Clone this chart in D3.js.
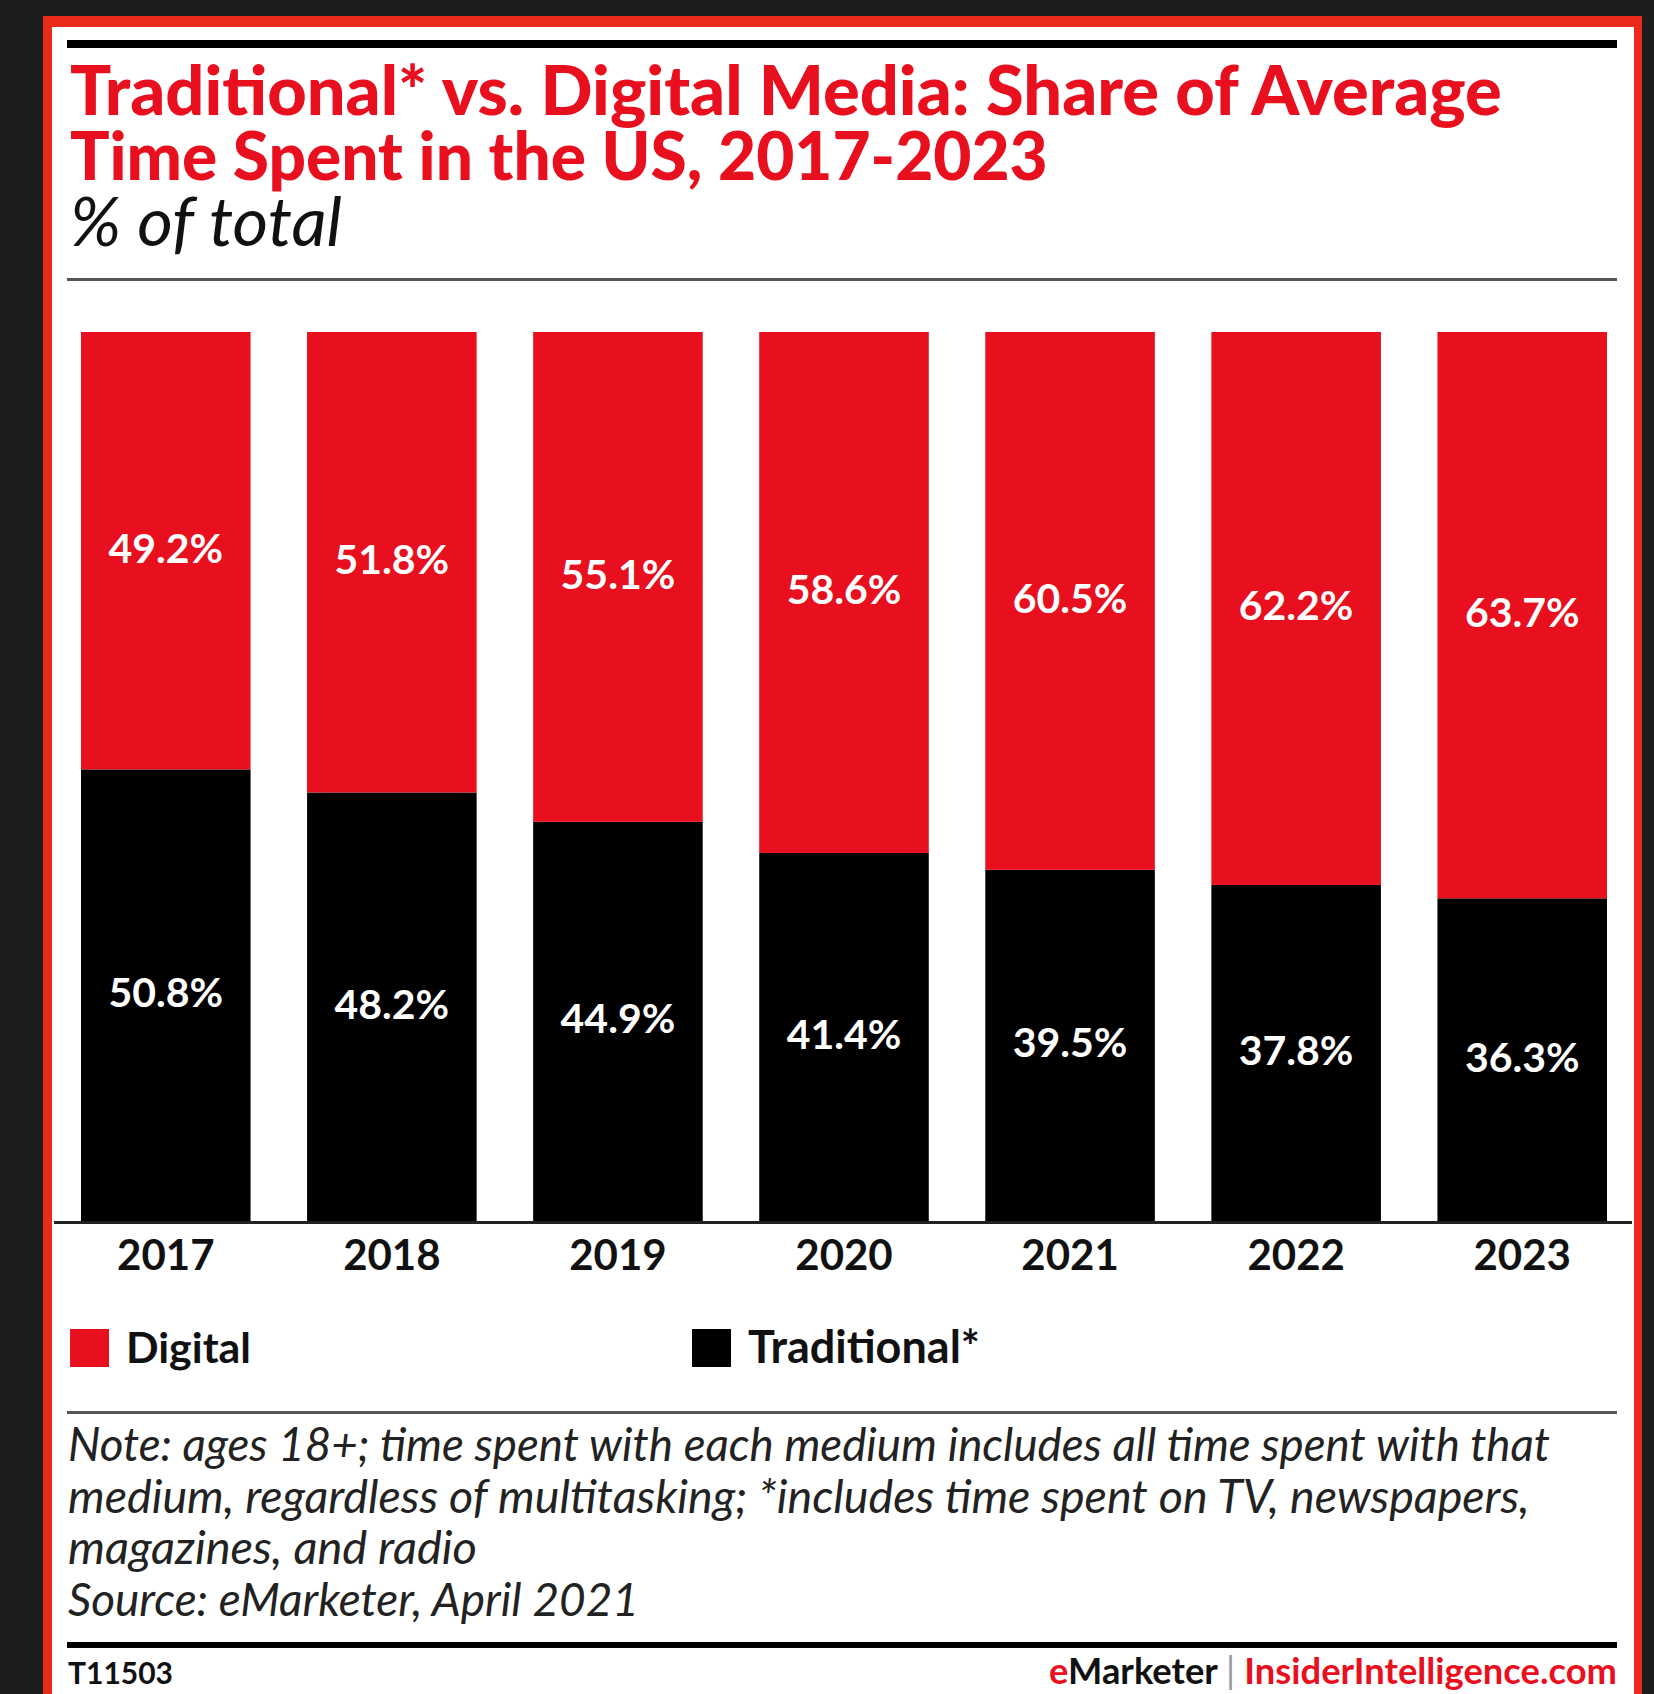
<!DOCTYPE html>
<html>
<head>
<meta charset="utf-8">
<script src="https://cdn.jsdelivr.net/npm/d3@7"></script>
<style>
  body { margin: 0; background: #1d1d1d; }
  svg { display: block; }
</style>
</head>
<body>
<svg id="chart"></svg>
<script>
const years = ["2017", "2018", "2019", "2020", "2021", "2022", "2023"];
const digital = [49.2, 51.8, 55.1, 58.6, 60.5, 62.2, 63.7];
const traditional = [50.8, 48.2, 44.9, 41.4, 39.5, 37.8, 36.3];
const seriesNames = ["Traditional*", "Digital"];
const titleLines = ["Traditional* vs. Digital Media: Share of Average", "Time Spent in the US, 2017-2023"];
const noteLines = [
  "Note: ages 18+; time spent with each medium includes all time spent with that",
  "medium, regardless of multitasking; *includes time spent on TV, newspapers,",
  "magazines, and radio",
  "Source: eMarketer, April 2021"
];

const width = 1654;
const height = 1694;
const red = "#e8101e";
const font = "Lato, 'Open Sans', sans-serif";

const svg = d3.select("#chart").attr("width", width).attr("height", height);

// squeeze/grow font size so the text spans roughly the same width as the original
function fit(sel, w) {
  const len = sel.node().getComputedTextLength();
  const fs = parseFloat(sel.attr("font-size"));
  sel.attr("font-size", (fs * w / len).toFixed(2));
  return sel;
}

// dark frame + red border + white card
svg.append("rect").attr("width", width).attr("height", height).attr("fill", "#1d1d1d");
svg.append("rect").attr("x", 43).attr("y", 16).attr("width", 1599).attr("height", height).attr("fill", "#ea2a1a");
svg.append("rect").attr("x", 52).attr("y", 27).attr("width", 1582).attr("height", height).attr("fill", "#fff");

// rules
svg.append("rect").attr("x", 67).attr("y", 40).attr("width", 1550).attr("height", 8).attr("fill", "#000");
svg.append("rect").attr("x", 67).attr("y", 278).attr("width", 1550).attr("height", 3).attr("fill", "#555");
svg.append("rect").attr("x", 67).attr("y", 1411).attr("width", 1550).attr("height", 3).attr("fill", "#555");
svg.append("rect").attr("x", 67).attr("y", 1642).attr("width", 1550).attr("height", 6).attr("fill", "#000");

// title
const titleW = [1432, 978];
titleLines.forEach((t, i) => {
  const el = svg.append("text").attr("x", 70).attr("y", 115 + i * 65)
    .attr("font-family", font).attr("font-weight", 900).attr("font-size", 60)
    .attr("fill", red).text(t);
  fit(el, titleW[i]);
});
fit(svg.append("text").attr("x", 70).attr("y", 246)
  .attr("font-family", font).attr("font-style", "italic").attr("font-size", 58)
  .attr("fill", "#111").text("% of total"), 272);

// bars
const x = d3.scaleBand().domain(years).range([81, 1607]).paddingInner(0.25).paddingOuter(0);
const y = d3.scaleLinear().domain([0, 100]).range([1221, 332]);

const table = years.map((yr, i) => ({ year: yr, "Traditional*": traditional[i], "Digital": digital[i] }));
const stacked = d3.stack().keys(seriesNames)(table);
const color = d3.scaleOrdinal().domain(seriesNames).range(["#000", red]);

const layers = svg.selectAll(".layer").data(stacked).enter().append("g")
  .attr("class", "layer").attr("fill", (d) => color(d.key));

layers.selectAll("rect").data((d) => d).enter().append("rect")
  .attr("x", (d) => x(d.data.year))
  .attr("y", (d) => y(d[1]))
  .attr("width", x.bandwidth())
  .attr("height", (d) => y(d[0]) - y(d[1]));

layers.selectAll("text").data((d) => d).enter().append("text")
  .attr("x", (d) => x(d.data.year) + x.bandwidth() / 2)
  .attr("y", (d) => (y(d[0]) + y(d[1])) / 2 + 12)
  .attr("text-anchor", "middle")
  .attr("font-family", font).attr("font-weight", 700).attr("font-size", 41)
  .attr("fill", "#fff")
  .text((d) => (d[1] - d[0]).toFixed(1) + "%");

// x axis
const xAxis = svg.append("g").attr("transform", "translate(0,1221)")
  .call(d3.axisBottom(x).tickSize(0).tickPadding(9));
xAxis.select(".domain").remove();
xAxis.append("rect").attr("x", 54).attr("y", 0).attr("width", 1578).attr("height", 3).attr("fill", "#222");
xAxis.selectAll(".tick text")
  .attr("font-family", font).attr("font-weight", 700).attr("font-size", 42)
  .attr("fill", "#111").attr("dy", "0.95em");

// legend
const legendItems = [
  { name: "Digital", color: red, x: 70, w: 125 },
  { name: "Traditional*", color: "#000", x: 692, w: 232 }
];
legendItems.forEach((d) => {
  svg.append("rect").attr("x", d.x).attr("y", 1329).attr("width", 39).attr("height", 38).attr("fill", d.color);
  fit(svg.append("text").attr("x", d.x + 56).attr("y", 1363)
    .attr("font-family", font).attr("font-weight", 700).attr("font-size", 42)
    .attr("fill", "#111").text(d.name), d.w);
});

// note + source
const noteW = [1482, 1462, 409, 571];
noteLines.forEach((t, i) => {
  fit(svg.append("text").attr("x", 68).attr("y", 1461 + i * 51.5)
    .attr("font-family", font).attr("font-style", "italic").attr("font-size", 40)
    .attr("fill", "#222").text(t), noteW[i]);
});

// footer
svg.append("text").attr("x", 68).attr("y", 1684)
  .attr("font-family", font).attr("font-weight", 700).attr("font-size", 30)
  .attr("fill", "#111").text("T11503");

const foot = svg.append("text").attr("x", 1617).attr("y", 1684).attr("text-anchor", "end")
  .attr("font-family", font).attr("font-weight", 700).attr("font-size", 31);
foot.append("tspan").attr("fill", red).text("e");
foot.append("tspan").attr("fill", "#111").text("Marketer ");
foot.append("tspan").attr("fill", "#999").attr("font-weight", 400).text("| ");
foot.append("tspan").attr("fill", red).text("InsiderIntelligence.com");
fit(foot, 568);
</script>
</body>
</html>
